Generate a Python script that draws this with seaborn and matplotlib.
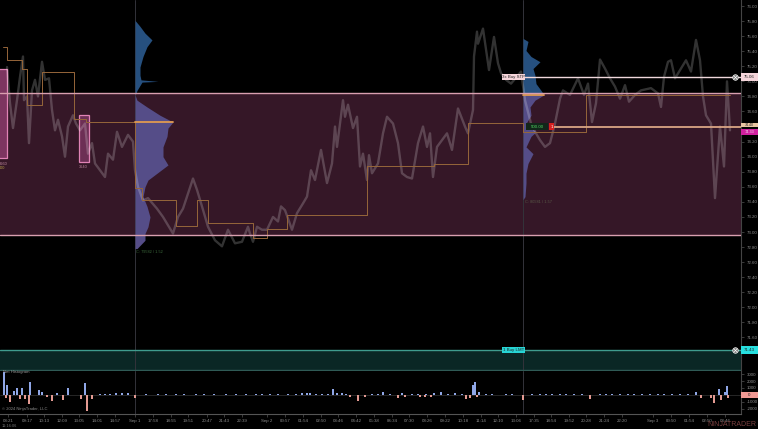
import matplotlib
matplotlib.use("Agg")
import matplotlib.pyplot as plt
from matplotlib.patches import Rectangle
import numpy as np
import seaborn as sns

# price line (bar index, price)
price_x = [7, 10, 13, 17, 20, 23, 24, 27, 29, 32, 35, 38, 42, 45, 49, 52, 55, 58, 62, 65, 68, 73, 76, 80, 85, 88, 92, 95,
           100, 105, 108, 113, 117, 122, 128, 133, 135, 138, 143, 148, 157, 163, 173, 178, 183, 188, 193, 197, 202, 208,
           215, 222, 228, 235, 242, 248, 250, 253, 257, 262, 267, 273, 278, 281, 285, 292, 297, 303, 307, 311, 315, 321,
           327, 332, 335, 337, 343, 345, 348, 353, 357, 360, 363, 367, 369, 372, 378, 383, 387, 393, 398, 402, 407, 412,
           418, 423, 427, 430, 433, 437, 442, 447, 452, 458, 465, 468, 473, 474, 477, 478, 483, 489, 494, 498, 501, 506,
           511, 518, 521, 525, 531, 536, 540, 545, 550, 555, 560, 563, 570, 578, 584, 588, 592, 596, 600, 605, 610, 615,
           620, 625, 629, 635, 641, 651, 658, 661, 664, 668, 671, 675, 680, 686, 691, 696, 700, 703, 706, 711, 715, 720,
           724, 727, 730]
price_y = [75.19, 74.71, 74.38, 74.75, 75.06, 75.33, 74.75, 74.80, 74.18, 74.88, 75.02, 74.80, 75.26, 75.02, 75.04, 74.62,
           74.35, 74.49, 74.27, 74.00, 74.40, 74.55, 74.44, 74.35, 74.44, 74.04, 74.18, 73.91, 73.82, 73.73, 74.04, 73.96,
           74.33, 74.13, 74.29, 74.20, 73.82, 73.60, 73.42, 73.45, 73.31, 73.20, 72.98, 73.20, 73.31, 73.51, 73.71, 73.56,
           73.34, 73.07, 72.89, 72.81, 73.03, 72.85, 72.87, 73.07, 72.98, 72.87, 73.07, 73.03, 73.03, 73.20, 73.14, 73.34,
           73.29, 73.03, 73.25, 73.38, 73.47, 73.82, 73.69, 74.09, 73.65, 73.91, 74.40, 74.13, 74.75, 74.53, 74.69, 74.38,
           74.53, 73.87, 74.04, 73.69, 74.02, 73.78, 73.91, 74.31, 74.53, 74.44, 74.18, 73.78, 73.73, 73.71, 74.18, 74.40,
           74.13, 74.31, 73.73, 74.13, 74.22, 74.31, 74.09, 74.64, 74.40, 74.31, 74.62, 75.33, 75.66, 75.50, 75.70, 75.15,
           75.59, 75.24, 75.11, 75.02, 74.97, 75.08, 75.13, 74.75, 74.44, 74.31, 74.22, 74.13, 74.18, 74.44, 74.77, 74.88,
           74.82, 75.04, 74.82, 74.97, 74.46, 74.71, 75.29, 75.17, 75.04, 74.93, 74.77, 74.95, 74.73, 74.82, 74.88, 74.91,
           74.84, 74.66, 75.06, 75.26, 75.28, 75.04, 75.15, 75.28, 75.13, 75.55, 75.28, 74.80, 74.55, 74.44, 73.45, 74.40,
           73.87, 75.00, 74.35]

# stepped orange level
step_x = [3, 7, 7, 22, 22, 27, 27, 42, 42, 74, 74, 86, 86, 135, 135, 142, 142, 176, 176, 197, 197, 208, 208, 253, 253, 267,
          267, 287, 287, 367, 367, 434, 434, 468, 468, 523, 523, 586, 586, 730]
step_y = [75.46, 75.46, 75.29, 75.29, 75.16, 75.16, 74.69, 74.69, 75.13, 75.13, 74.50, 74.50, 74.46, 74.46, 73.58, 73.58,
          73.42, 73.42, 73.08, 73.08, 73.42, 73.42, 73.12, 73.12, 72.92, 72.92, 73.04, 73.04, 73.22, 73.22, 73.88, 73.88,
          73.90, 73.90, 74.45, 74.45, 74.33, 74.33, 74.82, 74.82]

# volume profiles: price and width
prof1_p = [75.81, 75.73, 75.64, 75.55, 75.46, 75.33, 75.19, 75.08, 75.02, 75.00, 74.99, 74.88, 74.84, 74.82, 74.75, 74.66,
           74.55, 74.46, 74.38, 74.27, 74.13, 74.00, 73.89, 73.78, 73.69, 73.60, 73.47, 73.34, 73.20, 73.07, 72.98, 72.89,
           72.78]
prof1_w = [0, 5, 10, 17, 12, 8, 5, 5, 6, 23, 7, 2, 1, 0, 2, 12, 25, 38, 33, 32, 28, 28, 33, 22, 13, 10, 8, 12, 15, 13, 10,
           10, 2]
prof2_p = [75.57, 75.53, 75.41, 75.33, 75.26, 75.17, 75.08, 74.97, 74.88, 74.84, 74.82, 74.75, 74.66, 74.55, 74.44, 74.33,
           74.27, 74.13, 74.04, 73.91, 73.78, 73.65, 73.47, 73.43]
prof2_w = [0, 5, 3, 8, 17, 10, 12, 13, 18, 20, 21, 12, 7, 8, 3, 13, 8, 3, 10, 5, 3, 3, 2, 0]

# net histogram
up_x = [4, 7, 14, 17, 22, 30, 39, 42, 57, 68, 85, 302, 307, 310, 333, 337, 342, 383, 402, 434, 441, 455, 473, 475, 479,
        560, 696, 719, 725, 727]
up_v = [3240, 1430, 570, 950, 1050, 1810, 670, 380, 240, 1050, 1670, 240, 330, 290, 810, 240, 290, 380, 240, 240, 480, 330,
        1430, 1810, 480, 140, 380, 810, 380, 1290]
down_x = [6, 10, 20, 25, 29, 47, 52, 63, 81, 87, 92, 135, 350, 358, 365, 398, 405, 420, 425, 431, 466, 470, 477, 523, 590,
          701, 711, 714, 721, 728]
down_v = [-480, -950, -570, -570, -1340, -240, -810, -720, -570, -2290, -620, -480, -330, -810, -240, -480, -240, -240,
          -240, -290, -570, -380, -290, -670, -570, -380, -380, -1190, -670, -380]
small_x = [100, 105, 110, 116, 122, 128, 146, 158, 166, 176, 184, 196, 204, 214, 226, 236, 246, 256, 262, 270, 278, 288,
           296, 316, 322, 328, 346, 372, 378, 390, 412, 418, 426, 448, 462, 486, 492, 506, 512, 532, 540, 546, 552, 566,
           574, 582, 600, 606, 612, 620, 628, 634, 642, 650, 658, 664, 672, 680, 688]
small_v = [150, 170, 200, 240, 260, 240, 130, 160, 140, 130, 180, 130, 140, 130, 150, 130, 140, 160, 130, 140, 130, 130,
           130, 160, 130, 140, 130, 160, 130, 140, 140, 180, 130, 130, 140, 130, 160, 130, 130, 130, 140, 130, 170, 130,
           140, 130, 160, 130, 140, 130, 150, 130, 140, 180, 130, 140, 170, 130, 140]

price_ticks = [76.0, 75.8, 75.6, 75.4, 75.2, 75.0, 74.8, 74.6, 74.2, 74.0, 73.8, 73.6, 73.4, 73.2, 73.0, 72.8, 72.6,
               72.4, 72.2, 72.0, 71.8, 71.6]
hist_ticks = [3000, 2000, 1000, -1000, -2000]
time_x = [8, 27, 44, 62, 79, 97, 115, 135, 153, 171, 188, 207, 224, 242, 267, 285, 303, 321, 338, 356, 374, 392, 409, 427,
          445, 463, 481, 498, 516, 534, 551, 569, 586, 604, 622, 653, 671, 689, 707, 725]
time_labels = ["08:21", "09:17", "10:13", "12:09", "13:05", "14:01", "14:57", "Sep 1", "17:58", "18:55", "19:51", "20:47",
               "21:43", "22:39", "Sep 2", "00:57", "01:54", "02:50", "03:46", "04:42", "05:38", "06:34", "07:30", "08:26",
               "09:22", "10:18", "11:14", "12:10", "13:06", "17:35", "18:54", "19:52", "20:28", "21:24", "22:20", "Sep 3",
               "00:50", "01:54", "02:50", "03:46"]

sell_top, sell_bottom = 74.84, 72.96
buy_top, buy_bottom = 71.43, 71.17
stop_price, limit_price = 75.06, 71.43
poc_now, last_price = 74.40, 74.33

sns.set_theme(style="dark", rc={"axes.facecolor": "black", "figure.facecolor": "black", "axes.grid": False,
                                "font.family": ["Liberation Sans", "DejaVu Sans"]})

W, H = 758, 429
fig = plt.figure(figsize=(W / 100, H / 100), dpi=100)
ax = fig.add_axes([0, 1 - 371 / H, 741 / W, 371 / H])
ax2 = fig.add_axes([0, 1 - 414 / H, 741 / W, 43 / H])
ax.set_xlim(0, 741)
ax.set_ylim(71.155, 76.08)
ax2.set_xlim(0, 741)

# zones
ax.axhspan(sell_bottom, sell_top, color="#351727", lw=0, zorder=1)
ax.axhspan(buy_bottom, buy_top, color="#0a2725", lw=0, zorder=1)
for lvl in (sell_top, sell_bottom):
    ax.axhline(lvl, color="#d99fb0", lw=1, zorder=5)
ax.axhline(buy_top, color="#3f9c8e", lw=1, zorder=5)
ax.axhline(buy_bottom, color="#2f5a55", lw=1, zorder=5)

for vx in (135, 523):
    ax.axvline(vx, color="#33333a", lw=0.7, zorder=2)
    ax2.axvline(vx, color="#33333a", lw=0.7, zorder=0)

# volume profiles
for base, pr, wd in ((135, prof1_p, prof1_w), (523, prof2_p, prof2_w)):
    pr = np.array(pr)
    wd = np.array(wd)
    ax.fill_betweenx(pr, base, base + wd, where=pr >= sell_top, color="#26507f", lw=0, zorder=3)
    ax.fill_betweenx(pr, base, base + wd, where=pr <= sell_top, color="#554d88", lw=0, zorder=3)

# price and steps
sns.lineplot(x=price_x, y=price_y, sort=False, estimator=None, color="white", alpha=0.2, lw=1.7, ax=ax, zorder=4)
sns.lineplot(x=step_x, y=step_y, sort=False, estimator=None, color="#96663a", lw=0.7, ax=ax, zorder=4)
sns.lineplot(x=[135, 173], y=[74.46, 74.46], color="#e09a50", lw=1.3, ax=ax, zorder=4)
sns.lineplot(x=[523, 544], y=[74.82, 74.82], color="#e09a50", lw=1.3, ax=ax, zorder=4)
sns.lineplot(x=[554, 741], y=[poc_now, poc_now], color="#d9a585", lw=1.3, ax=ax, zorder=5)
sns.lineplot(x=[523, 741], y=[stop_price, stop_price], color="#f0d8dc", lw=1, ax=ax, zorder=5)

# pink volume boxes
ax.add_patch(Rectangle((-3, 73.98), 10, 1.18, fc="#7d3560", ec="#e083b5", lw=0.9, zorder=3))
ax.add_patch(Rectangle((79, 73.93), 10, 0.62, fc="#6d2f55", ec="#e083b5", lw=0.9, zorder=3))
ax.text(3, 73.93, "3660", color="#c08aa0", fontsize=2.8, ha="center", va="top", zorder=6)
ax.text(2, 73.87, "000", color="#b9a34a", fontsize=2.8, ha="center", va="top", zorder=6)
ax.text(83.5, 73.89, "3640", color="#c08aa0", fontsize=2.8, ha="center", va="top", zorder=6)
ax.text(136, 72.74, "C: 79582 / 1.52", color="#3c6a3c", fontsize=2.8, va="center", zorder=6)
ax.text(525, 73.40, "C: 80581 / 1.57", color="#5a5a48", fontsize=2.8, va="center", zorder=6)


def tag(axis, x0, x1, y, text, fc, tc="#222222", h=0.075, size=3.2):
    axis.add_patch(Rectangle((x0, y - h / 2), x1 - x0, h, fc=fc, ec="none", clip_on=False, zorder=8))
    axis.text((x0 + x1) / 2, y, text, color=tc, fontsize=size, ha="center", va="center", clip_on=False, zorder=9)


# orders
tag(ax, 502, 525, stop_price, "3x Buy STP", "#f5d5da")
tag(ax, 502, 525, limit_price, "1 Buy LMT", "#27d5d5")
tag(ax, 526, 548, poc_now, "500.00", "#12261a", tc="#4fd15f", h=0.09)
tag(ax, 549, 554, poc_now, "1", "#d42020", tc="white", h=0.09)
for lvl in (stop_price, limit_price):
    sns.scatterplot(x=[735], y=[lvl], s=16, color="#777777", edgecolor="white", linewidth=0.5, ax=ax, zorder=7)
    sns.scatterplot(x=[735], y=[lvl], s=6, marker="x", color="white", linewidth=0.5, ax=ax, zorder=8)

# right side price tags
tag(ax, 741, 758, stop_price, "75.06", "#f5d5da", h=0.11)
tag(ax, 741, 758, poc_now + 0.02, "74.40", "#e8c4a2", h=0.055, size=2.6)
tag(ax, 741, 758, last_price, "74.33", "#d0209f", tc="#f6d6ee", h=0.075, size=2.8)
tag(ax, 741, 758, limit_price, "71.43", "#27e0e0", h=0.11)

# histogram
sns.barplot(x=up_x, y=up_v, native_scale=True, color="#8fa6e6", saturation=1, width=1.0, ax=ax2, lw=0, zorder=3)
sns.barplot(x=down_x, y=down_v, native_scale=True, color="#e39a92", saturation=1, width=0.65, ax=ax2, lw=0, zorder=3)
sns.barplot(x=small_x, y=small_v, native_scale=True, color="#8fa6e6", saturation=1, width=0.35, ax=ax2, lw=0, zorder=3)
ax2.axhline(0, color="#444444", lw=0.4, zorder=1)
ax2.set_xlim(0, 741)
ax2.set_ylim(-2717, 3430)

tag(ax2, 741, 758, 0, "0", "#f09a94", h=900)
ax2.text(3, 3250, "Net Histogram", color="#9a9a9a", fontsize=3, va="center")
ax2.text(2, -2000, "© 2024 NinjaTrader, LLC", color="#8a8a8a", fontsize=3, va="center")

# axes furniture
for a in (ax, ax2):
    for side in ("top", "left", "bottom"):
        a.spines[side].set_visible(False)
    a.spines["right"].set_color("#444444")
    a.spines["right"].set_linewidth(0.8)
    a.yaxis.tick_right()
    a.set_xlabel("")
    a.set_ylabel("")

ax.set_xticks([])
ax.set_yticks(price_ticks)
ax.set_yticklabels([f"{t:.2f}" for t in price_ticks])
ax.tick_params(axis="y", length=2.5, width=0.4, color="#666666", labelcolor="#8c8c8c", labelsize=3.2, pad=1.5, right=True)
ax2.set_yticks(hist_ticks)
ax2.set_yticklabels([str(t) for t in hist_ticks])
ax2.tick_params(axis="y", length=2.5, width=0.4, color="#666666", labelcolor="#8c8c8c", labelsize=3.2, pad=1.5, right=True)
ax2.spines["bottom"].set_visible(True)
ax2.spines["bottom"].set_color("#555555")
ax2.spines["bottom"].set_linewidth(0.8)
ax2.set_xticks(time_x)
ax2.set_xticklabels(time_labels)
ax2.tick_params(axis="x", length=2, width=0.4, color="#666666", labelcolor="#8c8c8c", labelsize=3.2, pad=1.5, bottom=True)

fig.text(2 / W, 1 - 426 / H, "11:16:06", color="#777777", fontsize=2.8, va="center")
fig.text(756 / W, 1 - 425 / H, "NINJATRADER", color="#7a3f3f", fontsize=5, ha="right", va="center")

fig.savefig("out.png", dpi=100, facecolor="black")
